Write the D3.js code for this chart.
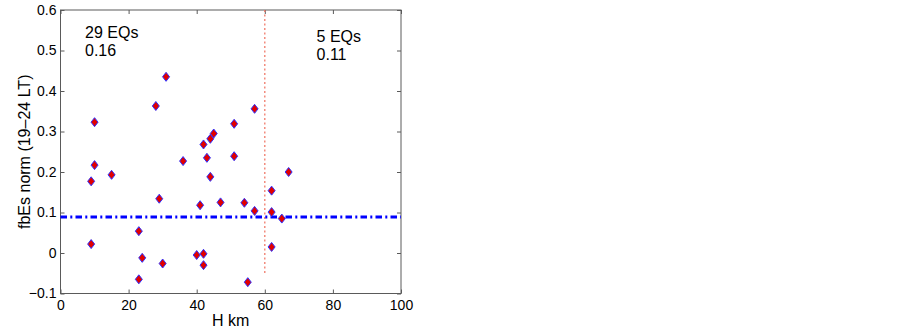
<!DOCTYPE html>
<html>
<head>
<meta charset="utf-8">
<script src="https://cdn.jsdelivr.net/npm/d3@7"></script>
<style>
  body { margin: 0; background: #fff; }
  svg text { font-family: "Liberation Sans", Arial, Helvetica, sans-serif; fill: #000; }
</style>
</head>
<body>
<svg id="chart" width="902" height="334"></svg>
<script>
// values: H (km) and normalised fbEs (19-24 LT)
var heights = [10, 28, 10, 9, 15, 29, 23, 9, 24, 30, 23, 31, 36, 51, 45, 44, 42, 43, 51, 44, 41, 47, 54, 57, 40, 42, 42, 55, 57,
               62, 62, 65, 62, 67];
var fbEs = [0.323, 0.363, 0.217, 0.177, 0.193, 0.134, 0.054, 0.022, -0.012, -0.026, -0.065, 0.435, 0.227, 0.319, 0.295, 0.282,
            0.268, 0.235, 0.239, 0.188, 0.118, 0.125, 0.124, 0.104, -0.005, -0.002, -0.030, -0.072, 0.356,
            0.154, 0.101, 0.085, 0.015, 0.200];

var meanLevel = 0.089;          // blue dash-dot line
var splitH = 60;                // red dotted line
var splitRange = [0.6, -0.05];

var xTicks = [0, 20, 40, 60, 80, 100];
var yTicks = [-0.1, 0, 0.1, 0.2, 0.3, 0.4, 0.5, 0.6];

var notes = [
  {x: 7.2, y: 0.531, lines: ["29 EQs", "0.16"]},
  {x: 75.2, y: 0.522, lines: ["5 EQs", "0.11"]}
];

var svg = d3.select("#chart");
// NB: "top" is taken by window.top, so plot edges get their own names
var plotL = 60.5, plotR = 401, plotT = 10, plotB = 293.5;

var x = d3.scaleLinear().domain([0, 100]).range([plotL, plotR]);
var y = d3.scaleLinear().domain([-0.1, 0.6]).range([plotB, plotT]);

//axes with inward ticks, box all around
var axisColor = "#5a5a5a";
function styleAxis(g) {
  g.select(".domain").remove();
  g.selectAll(".tick line").attr("stroke", axisColor);
  g.selectAll(".tick text").style("font-size", "14px").attr("fill", "#000");
}

svg.append("g").attr("transform", "translate(0," + plotB + ")")
  .call(d3.axisBottom(x).tickValues(xTicks).tickSize(-4).tickPadding(6.5).tickFormat(d3.format("d")))
  .call(styleAxis);
svg.append("g").attr("transform", "translate(0," + plotT + ")")
  .call(d3.axisTop(x).tickValues(xTicks).tickSize(-4).tickFormat(""))
  .call(styleAxis);
svg.append("g").attr("transform", "translate(" + plotL + ",0)")
  .call(d3.axisLeft(y).tickValues(yTicks).tickSize(-4).tickPadding(4)
        .tickFormat(function(d) { return Math.abs(d) < 1e-9 ? "0" : (d < 0 ? "\u22120.1" : d3.format(".1f")(d)); }))
  .call(styleAxis);
svg.append("g").attr("transform", "translate(" + plotR + ",0)")
  .call(d3.axisRight(y).tickValues(yTicks).tickSize(-4).tickFormat(""))
  .call(styleAxis);

svg.append("rect")
  .attr("x", plotL).attr("y", plotT)
  .attr("width", plotR - plotL).attr("height", plotB - plotT)
  .attr("fill", "none").attr("stroke", axisColor).attr("stroke-width", 1);

// reference lines
svg.append("line")
  .attr("x1", x(splitH)).attr("x2", x(splitH))
  .attr("y1", y(splitRange[0])).attr("y2", y(splitRange[1]))
  .attr("stroke", "#f07a6a").attr("stroke-width", 1.3)
  .attr("stroke-dasharray", "2,2.5");

svg.append("line")
  .attr("x1", x(0)).attr("x2", x(100))
  .attr("y1", y(meanLevel)).attr("y2", y(meanLevel))
  .attr("stroke", "#0000ff").attr("stroke-width", 3)
  .attr("stroke-dasharray", "6.5,3.3,2,3.2");

// diamonds
svg.append("g").selectAll("path")
  .data(d3.range(heights.length))
  .enter()
  .append("path")
  .attr("d", function(i) {
    var cx = x(heights[i]), cy = y(fbEs[i]);
    return "M" + cx + "," + (cy - 4.5) + "L" + (cx + 3.5) + "," + cy + "L" + cx + "," + (cy + 4.5) + "L" + (cx - 3.5) + "," + cy + "Z";
  })
  .attr("fill", "#e00000")
  .attr("stroke", "#3030ff")
  .attr("stroke-width", 1);

// annotations
notes.forEach(function(n) {
  n.lines.forEach(function(t, j) {
    svg.append("text")
      .attr("x", x(n.x)).attr("y", y(n.y) + j * 18.5)
      .style("font-size", "16px")
      .text(t);
  });
});

// labels
svg.append("text")
  .attr("x", x(50)).attr("y", 326)
  .attr("text-anchor", "middle")
  .style("font-size", "16px")
  .text("H km");

svg.append("text")
  .attr("transform", "translate(30," + (plotT + plotB) / 2 + ") rotate(-90)")
  .attr("text-anchor", "middle")
  .style("font-size", "16px")
  .text("fbEs norm (19\u201324 LT)");
</script>
</body>
</html>
